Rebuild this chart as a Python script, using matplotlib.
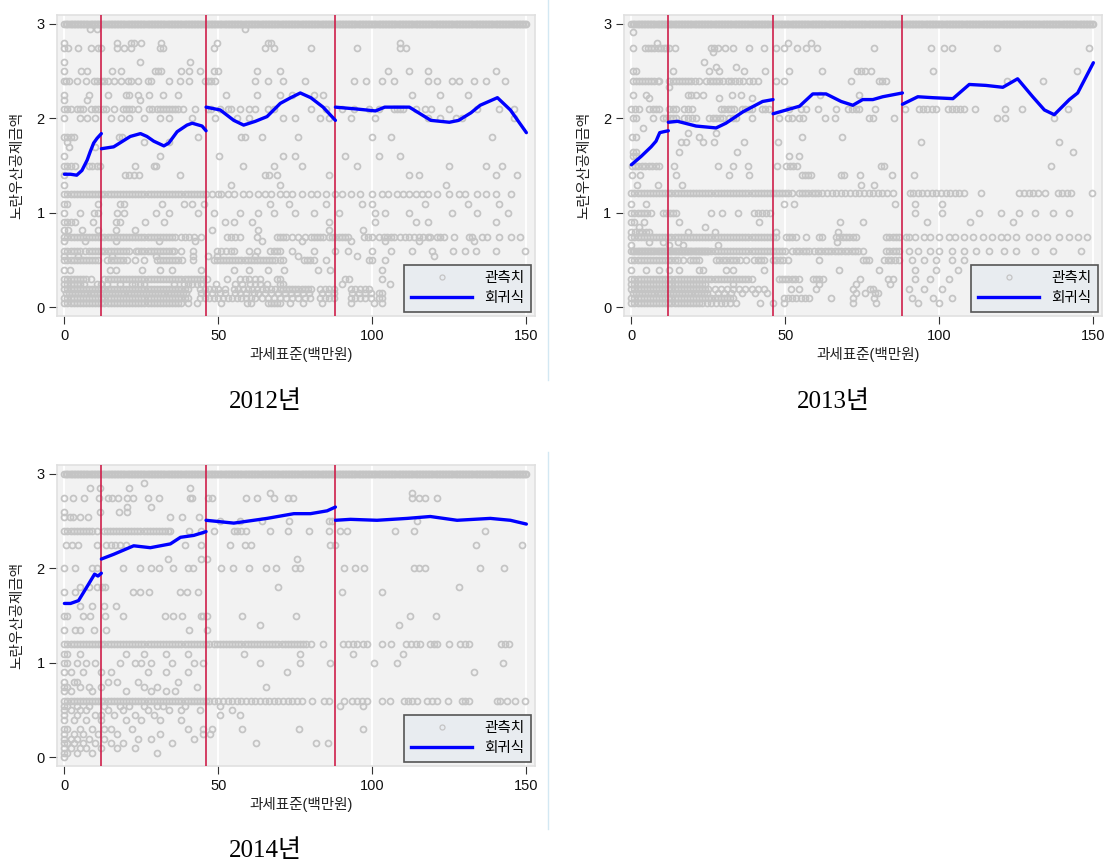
import matplotlib
matplotlib.use("Agg")
import matplotlib.pyplot as plt
from matplotlib.lines import Line2D

plt.rcParams['font.family'] = ['Liberation Sans', 'Noto Sans CJK KR']

FIG_W, FIG_H = 1109, 864

# ---------------------------------------------------------------- text
year_titles = ["2012년", "2013년", "2014년"]
x_label = "과세표준(백만원)"
y_label = "노란우산공제금액"
legend_labels = ["관측치", "회귀식"]
x_ticks = [0, 50, 100, 150]
y_ticks = [0, 1, 2, 3]
brackets = [12, 46, 88]          # tax-bracket thresholds (million won)

# ---------------------------------------------------------------- observations
# each row: (deduction amount, "taxable income values")
cap_row = """0 .5 1 1.5 2 2.5 3 3.5 4 4.5 5 5.5 6 6.5 7 7.5 8 8.5 9 9.5
10 10.5 11 11.5 12 12.5 13 13.5 14 14.5 15 15.5 16 16.5 17 17.5 18 18.5 19 19.5
20 20.5 21 21.5 22 22.5 23 23.5 24 24.5 25 25.5 26 26.5 27 27.5 28 28.5 29 29.5
30 30.5 31 31.5 32 32.5 33 33.5 34 34.5 35 35.5 36 36.5 37 37.5 38 38.5 39 39.5
40 40.5 41 41.5 42 42.5 43 43.5 44 44.5 45 45.5 46 46.5 47 47.5 48 48.5 49 49.5
50 50.5 51 51.5 52 52.5 53 53.5 54 54.5 55 55.5 56 56.5 57 57.5 58 58.5 59 59.5
60 60.5 61 61.5 62 62.5 63 63.5 64 64.5 65 65.5 66 66.5 67 67.5 68 68.5 69 69.5
70 70.5 71 71.5 72 72.5 73 73.5 74 74.5 75 75.5 76 76.5 77 77.5 78 78.5 79 79.5
80 80.5 81 81.5 82 82.5 83 83.5 84 84.5 85 85.5 86 86.5 87 87.5 88 88.5 89 89.5
90 90.5 91 91.5 92 92.5 93 93.5 94 94.5 95 95.5 96 96.5 97 97.5 98 98.5 99 99.5
100 100.5 101 101.5 102 102.5 103 103.5 104 104.5 105 105.5 106 106.5 107 107.5 108 108.5 109 109.5
110 110.5 111 111.5 112 112.5 113 113.5 114 114.5 115 115.5 116 116.5 117 117.5 118 118.5 119 119.5
120 120.5 121 121.5 122 122.5 123 123.5 124 124.5 125 125.5 126 126.5 127 127.5 128 128.5 129 129.5
130 130.5 131 131.5 132 132.5 133 133.5 134 134.5 135 135.5 136 136.5 137 137.5 138 138.5 139 139.5
140 140.5 141 141.5 142 142.5 143 143.5 144 144.5 145 145.5 146 146.5 147 147.5 148 148.5 149 149.5 150"""

obs_2012 = [
    (3.00, cap_row),
    (2.95, "8.4 10.6 58.8"),
    (2.80, "0 17 21.5 22.5 25 31.5 49.5 66 67 109"),
    (2.75, "0 1.2 4.5 8.5 11 12 17 19.5 21.5 31 32 48.5 65 68 80 95 109 111"),
    (2.60, "0 24.5 40.7"),
    (2.50, "0 5.5 7.5 15.5 18.5 29.5 30.5 31.5 38 40.5 44 48.5 50 62.5 70 105 112 118 140"),
    (2.40, "0 0.5 1.5 4 7 9.5 10.5 12 13 14 16 18.5 20.5 21.5 24 27 28 34 37.5 40.5 45.5 46.5 47.5 49 "
           "62 66 71 78 94 98 103 107 118 121 126 128 133 137 143"),
    (2.25, "0 8 14 20 21 24 27.5 32 37 52.5 62.5 70 74 81 84 113 122 131"),
    (2.20, "0 7.5 24.5"),
    (2.10, "0 1 2 4 5 6 8.5 10 11 12.5 13.5 16 19 20 21 22 24 27.5 28.5 30 31 32 33 34 35 36 37 38.5 "
           "42.5 46.5 47.5 50.5 53 54 57 60 62 66 68 80 85 90 94 99 102 107 108 109 110 114 117 119 125 134 141 146"),
    (2.00, "0 5 7.5 10 15 18.5 21 26 31 34 41.5 49 56 60 71 75 83 86 93 101 118 122 127 129 146"),
    (1.80, "0 1 2 3.1 17.6 18.7 43.4 57.2 58.8 64 76 100 106 139"),
    (1.75, "1 26 34"),
    (1.70, "1.4 10"),
    (1.60, "0 31.2 50.3 71 75 91 102 109"),
    (1.50, "0 1 2 3.5 7.9 9 10.5 11.6 23 29 29.9 58 68 77 95 125 137 142"),
    (1.40, "0 19.8 21 22.5 24.1 37.5 65 66.5 68.9 86 112 115 140 147"),
    (1.30, "0 54 70 124"),
    (1.20, "0 1 2 3 4 5 6 7 8 9 10 11 12 13 14 15 16 17 18 19 20 21 22 23 24 25 26 27 28 29 30 31 32 33 34 35 "
           "36 37 38 39 40 41 42 43 44 45 46 48 50 51 53 55 58 60 63 65 67 70 72 74 77 80 82 85 88 90 93 96 100 "
           "103 105 108 110 112 114 116 118 121 125 128 130 134 137 140 145"),
    (1.10, "0 0.9 11 18 19.4 31.7 38.7 41.5 45.2 66.9 73 85 96.6 100 117 131 141"),
    (1.00, "0 5.2 9.5 10.9 17 19.3 29.8 33.9 43.4 48.5 57 63 68 75 81 89 101 104 112 126 134 144"),
    (0.90, "0 1 2 3.5 9.3 16.9 18 26.1 32.5 52 55 61 86 101 114 118 140"),
    (0.82, "0 1.3 5.6 10.8 16.6 23 48 63 86 97"),
    (0.75, "0 1 2 3 4 5 6 7 8 9 10 11 12 13 14 15 16 17 18 19 20 21 22 23 24 25 26 27 28 29 30 31 32 33 34 35 36 "
           "37.7 39 40.5 42 44.2 52.7 54 55.5 57.1 62.5 69 70 71 72 74 76 78 80 81 82 83 84 86 87 88 89 90 91 92 "
           "97.2 98.5 100 102 103.7 104.8 106 106.9 109 110.5 112 113.5 115 116.5 118 118.8 121 122 123.2 126.4 "
           "131.3 132.4 135.6 137.2 141 145 148"),
    (0.70, "0 6.7 16.6 30.6 42.3 64 77 93 104 115 133"),
    (0.60, "0 1 2 3 4 5 6.7 8 9 10 11 12 13 14 15 16 17 18 19 20 20.9 23.1 24 25 26 27 28 29 30 31 32 33 34 35 "
           "35.5 38 41.8 49.6 51 52.5 54 55 59.9 62.5 66.9 68 69 70.1 74 81 88 92 100 106 112.9 119.2 126.2 130 "
           "133.8 140 149.5"),
    (0.55, "0 4.3 15.5 29.8 41.9 46.6 49.6 62 76 95 120"),
    (0.50, "0 1 2 3 4 5 6 7 8 9 10 11 13.8 15 16 17 18 19 20.3 23 25.8 30.1 31 32 33 34 35 36 37 38.2 41.9 "
           "48.5 49.5 50.5 51.5 52.5 53.5 54.5 55.5 56.5 57.5 58.5 59.5 60.5 61.5 62.5 63.5 64.5 65.5 66.5 "
           "67.5 68.5 70 71 77.7 78.7 79.8 80.9 85.1 98.8 99.9 104"),
    (0.40, "0 1.8 14.9 16.6 25.2 31.2 35 44.2 55 60 66 71.4 82.4 86.2 103"),
    (0.30, "0 1 2 3 4 5 6 7 8.5 12.8 14 15 16 17 18 19 20 21 22 23 24 25 26 27 28 29 30 31 32 33 34 35 36 37 38 "
           "39 40 41 42 43 44 45 46.3 52.7 57 58.5 60 62 63.6 69 70 91.2 92.3 103.2"),
    (0.25, "0 1 2 3 4 5 6.3 10.6 12 13.8 18.2 22 23 24.5 25.8 35.5 38.7 40 41.5 43 44.2 49.1 55.5 57.6 60.3 62 "
           "63.5 65.8 70 71 90.2 105.6"),
    (0.20, "0 1 2 3 4 5 6 7 8 9 10 11 12 13 14 15 16 17 18 19 20 21 22 23 24 25 26 27 28 29 30 31 32 33 34 35 "
           "36 37 38 39 40 44 45.5 47 48.5 50 52 55 56.5 58 59.5 61 62.5 64 65.5 67 68.5 70 71 72 73 74 75 76 "
           "77 78 79 80 83 84.5 86 87.5 93 94.5 96 97.5 99"),
    (0.15, "0.5 1.5 2.5 3.5 4.5 5.5 6.5 7.5 8.5 9.5 10.5 11.5 12.5 13.5 14.5 15.5 16.5 17.5 18.5 19.5 20.5 "
           "21.5 22.5 23.5 24.5 25.5 26.5 27.5 28.5 29.5 30.5 31.5 32.5 33.5 34.5 35.5 36.5 37.5 38.5 39.5 "
           "44.5 46 48 50.5 52 55.5 57 59 61.5 63 65 67 69.5 71.5 73.5 75.5 77.5 79.5 83.5 85.5 87.5 93.5 "
           "95.5 97.5 99.4 102 103.2"),
    (0.10, "0 1 2 3 4 5 6 7 8 9 10 11 12 13 14 15 16 17 18 19 20 21 22 23 24 25 26 27 28 29 30 31 32 33 34 35 "
           "36 37 38 39 40 44 45.5 47 48.5 50 51.5 53 54.5 56 57.5 59 60.5 62 64 66 68 70 72 74 76 78 79.9 "
           "83.1 84.5 86 87.5 92.9 94.5 96 97.5 99.4 102 103.2"),
    (0.05, "0 1 2 3 4 5 6 7 8 9 10 11 12 13 14 15 16 17 18 19 20 21 22 23 24 25 26 27 28 29 30 31 32 33 34 35 "
           "36 37 38 40 43 50.7 59.3 60.5 66 67 68 69 70 73.2 77.5 83.7 92.9 100.4 103.2"),
]

obs_2013 = [
    (3.00, cap_row),
    (2.92, "0.4"),
    (2.80, "8.3 50.8 58.3"),
    (2.75, "0.4 4.5 5.5 6.5 7.5 8.5 9.5 10.5 11.3 12.3 14.3 25.7 26.7 28 30.4 33 38.3 43 47 49.4 53.8 56.7 "
           "60.3 78.9 97.3 101.4 104.1 118.7 148.7"),
    (2.70, "26.4"),
    (2.60, "23.7"),
    (2.55, "27.5 34"),
    (2.50, "0.4 1.5 13.4 25.3 28.6 36.5 43.4 51.3 61.8 73.3 74.5 76 77.8 97.8 144.7"),
    (2.40, "0.4 1.5 2.5 3.5 4.5 5.5 6.5 7.5 8.5 9.1 12.3 13.5 14.5 15.5 16.5 17.5 18.5 19.5 20.5 22.1 24.3 "
           "25.5 26.5 27.5 28.5 29.7 31.3 32.5 33.5 35 36.2 38.3 39.5 41 47 49.7 71.3 80.5 81.5 82.7 121.9 133.6"),
    (2.33, "12.3"),
    (2.25, "0.4 4.7 18.3 19.5 21 23.1 32.7 35.6 61.4 73.8"),
    (2.22, "5.6 28.6 39.1"),
    (2.10, "0 1.3 2.6 5.8 7 8 9.1 12.3 13.4 14.5 17 18.4 19.8 29.1 30.2 31.3 32.4 33.4 35.9 37 38.2 39.3 "
           "42.4 43.5 44.6 51.3 55.1 56.7 60.5 66.4 70.2 71.5 72.8 74 79.2 88.9 93.5 94.8 96.1 97.5 98.9 "
           "102.7 104 105.4 106.7 108.1 111.7 121.4 126.9 141.7"),
    (2.00, "0.4 1.5 6.9 10.2 11.3 12.4 13.5 14.5 17 18.3 19.6 20.9 25.3 26.4 27.6 28.7 29.7 31.8 32.9 34 "
           "39.3 47.8 51 52.3 54.3 55.6 62.9 66.2 77 78.4 85.4 118.7 121.3 137.3"),
    (1.90, "3.9"),
    (1.85, "18.3 27.5"),
    (1.80, "0.1 1.5 21.9 55.4 68.4"),
    (1.75, "16 17.7 23.1 26.7 36.5 47.7 94 138.9"),
    (1.65, "0.4 1.5 15.4 34.3 143.5"),
    (1.60, "0.4 1.5 51.3 54.3"),
    (1.50, "0.1 1.2 2.3 3.4 4.5 5.6 6.7 7.9 9.1 13.9 28 32.9 38 47.3 50.3 51.4 52.5 53.7 81 82.1 136.2"),
    (1.40, "0.1 2.7 14.5 31.8 38.3 55.4 56.4 57.4 58.4 68 69.1 74.3 84.6 91.9"),
    (1.30, "1.9 8.5 16.3 74.6 78.9"),
    (1.21, "0 1 2 3 4 5 6 7 8 9 10 11 12 13 14 15 16 17 18 19 20 21 22 23 24 25 26 27 28 29 30 31 32 33 34 35 "
           "36 37 38 39 40 41 42 43 44 45 46 47 48 49 50 51 52 54.5 55.5 56.5 57.5 58.5 59.5 60.5 62 63.5 65 "
           "66.5 68 69.5 71 72.5 74 75.5 77 78.5 80 81.5 83 84.8 90.3 91.5 93 94.5 96 97.5 99 100.5 102 103.5 "
           "105 106.5 108.1 113.5 126 127.5 129 130.5 132 134.2 138.4 139.8 141.3 142.8 149.4"),
    (1.10, "0 4.6 49.7 52.9 85.7 92 101"),
    (1.00, "0 1 2 3 4 5 6.4 10.2 11.3 12.4 13.5 14.5 25.9 29.4 34.5 39.9 41.2 42.5 43.8 45.1 92 101 113 120 "
           "126 131 137 142"),
    (0.90, "0 1 4.2 15.6 41.4 67.8 75.3 96 110 124"),
    (0.85, "2.6 24"),
    (0.80, "0 1.2 2.4 3.6 4.7 5.8 18.3 27 46.8 67"),
    (0.75, "0 1 2 3 4 5 6 7 8 9 10 11 12 13 14 15 16 17 18 19 20 21 22 23 24 25 26 27 28 29 30 31 32 33 34 35 "
           "36 37 38 39 40 41 42 43 44 45 46 47 50.2 51.3 52.3 53.4 56.6 61 62 66.4 67.5 68.6 69.7 70.8 71.9 "
           "72.9 82.6 83.7 84.8 85.9 87 89 90 92 95 97 100 103 105 108 111 114 117 120 122 125 129 132 135 "
           "139 142 145 148"),
    (0.69, "5.8 10.2 15.1 66.7"),
    (0.66, "0 12.3 16.7 28"),
    (0.60, "0 .5 1 1.5 2 2.5 3 3.5 4 4.5 5 5.5 6 6.5 7 7.5 8 8.5 9 9.5 10 10.5 11 11.5 12 12.5 13 13.5 14 "
           "14.5 15 15.5 16 16.5 17 17.5 18 18.5 19 19.5 20 20.5 21 21.5 22 22.5 23 23.5 24 24.5 25 26 27 28 "
           "29 30 31 32 33 34 35 36 37 38 39 40 41 42 43 44 45 46 47 48 49 50 52.3 53.4 54.5 55.6 56.7 57.8 "
           "59.4 60.5 61.6 62.7 63.8 64.9 66 67.1 68.2 69.3 70.4 71.5 72.6 73.7 75.1 82.6 83.7 84.8 85.9 87 "
           "90 93 97 100 104 108 112 116 121 125 131 137 146"),
    (0.50, "0 1 2 3 4 5 6 7 8 9 10 11 12 13 14 15 16.7 18.9 20 21 22.1 27.5 28.6 29.7 30.8 31.9 33 34.1 35.2 "
           "37.2 39.9 41 42.1 43.2 45.9 47 48.1 49.2 50.7 61 75.1 76.2 77.3 82 83.2 84.4 85.6 87 91 95 99 104 108"),
    (0.40, "0 4.8 9.1 12.3 15.6 21.9 23.2 30.7 32.9 42.9 67.4 80.3 92 99 106"),
    (0.30, "0 1 2 3 4 5 6 7 8 9 10 11 12 13 14 15 16 17 18 19 20 21 22 23 24 25 26 27 28 29 30 31 32 33 34 35 "
           "36 37 38 39 48 49 50 51 52 53 54.5 58.9 60 61 62.1 74.3 83.2 84.8 92 97 103"),
    (0.25, "0 1 2 3 4 5 6 7 8 9 10 11 12 13 14 15 16 17 18 19 20 21 22 23 24 32.9 61 72.9 84.1"),
    (0.20, "0 1 2 3 4 5 6 7 8 9 10 11 12 13 14 15 16 17 18 19 20 21 22 23 24 25 27 29 31 33 35 37 39 41 43 "
           "51.8 54.5 59.9 72 77.6 78.4 90 95 101"),
    (0.15, "0.5 1.5 2.5 3.5 4.5 5.5 6.5 7.5 8.5 9.5 10.5 11.5 12.5 13.5 14.5 15.5 16.5 17.5 18.5 19.5 20.5 "
           "21.5 22.5 23.5 24.5 28 30 32.5 36 40 44 73 76 79 80"),
    (0.10, "0 1 2 3 4 5 6 7 8 9 10 11 12 13 14 15 16 17 18 19 20 21 22 23 24 25 26 27 28 29 30 31 32 33 "
           "49.7 51 52.3 53.6 55 56.4 57.8 64.8 71.9 78.9 91 98 104"),
    (0.05, "0 1 2 3 4 5 6 7 8 9 10 11 12 13 14 15 16 17 18 19 20 21 22 23 24.5 26 27.5 29 30.5 32 33.9 "
           "41.6 45.9 49.7 71.9 79.4 93 100"),
]

obs_2014 = [
    (3.00, cap_row),
    (2.90, "25.8"),
    (2.85, "8.2 11.5 21 40.7"),
    (2.80, "66.6 113"),
    (2.75, "0 2.8 6.3 11.1 14 15.5 17.5 20.2 22.4 27 30.8 40.7 41.4 46.7 48 59 62.5 68 72.5 74.2 113 115 117 121"),
    (2.65, "20.2 28.1"),
    (2.60, "0 11.5 17.6 20.2"),
    (2.55, "0 1.7 2.8 5.2 7.6 34.2 38.2 43.6"),
    (2.50, "50.6 57 64 72.8 85.8 87 114.5"),
    (2.40, "0 1 2 3 4 5 6 7 8 9 10.5 12.7 13.7 14.7 15.7 16.7 17.7 18.7 19.7 20.7 21.7 22.7 23.7 24.7 25.7 "
           "26.7 27.7 28.7 29.7 30.7 31.7 32.7 33.7 34.4 40.6 44.2 48.5 55 56 57.5 59 66.6 72.6 79.5 86 89.6 "
           "91.8 107.5 113.4 136.7"),
    (2.25, "0.5 2.4 4.3 10.5 13.5 15 16.5 18 20 39.1 44.2 53.9 58.8 60.7 86.4 88 133.7 148.6"),
    (2.10, "33.8 44.5 46.3 75.5"),
    (2.00, "0 3.5 8.9 10.5 19 24.4 28.1 30.8 35.2 40 41.6 50.9 54.8 59.8 65.3 68.8 75 76.6 90.7 94.5 97.2 "
           "113.4 115 117.2 134.8 142.6"),
    (1.80, "5.2 8.1 10.5 12.1 13.2 69.3 128"),
    (1.75, "0 3.5 22.2 24.6 27.6 37.5 39.9 43.5 90.2 103.2"),
    (1.60, "5.2 9 13 16.9"),
    (1.50, "0 1 6.1 8.4 13.2 19 32.6 35.3 38.2 44.5 45 46.4 57.7 75.2 112.3 120.5"),
    (1.40, "63.6 108.8"),
    (1.35, "0 3.5 5.2 9.7 13.5 40.3 46.3"),
    (1.20, "0 1 2 3 4 5 6 7 8 9 10 11 12 13 14 15 16 17 18 19 20 21 22 23 24 25 26 27 28 29 30 31 32 33 34 35 "
           "36 37 38 39 40 41 42 43 44 45 46 47 48.5 49.5 50.5 51.5 52.5 53.5 54.5 55.5 56.5 57.5 58.5 59.5 "
           "60.5 61.5 62.5 63.5 64.5 65.5 66.5 67.5 68.5 69.5 70.5 71.5 72.5 73.5 74.5 75.5 76.5 77.5 78.5 80 "
           "84 90.6 92 93.6 95 96.8 98.4 103.2 106 111 112.5 114 115.6 118.8 120 121 124.8 128.6 130 131.3 "
           "141.9 143 144.3"),
    (1.10, "0 1 5 20 26 33 40 58.2 76.6 93.6 110"),
    (1.00, "0 1 4 7 10 18 23 25 28 35 42 45 63.6 76.4 86.4 100.6 108 142.4"),
    (0.90, "0 2 6 12 15 27 33 40 72.3 133"),
    (0.80, "0 3 4 14 17 24 37"),
    (0.75, "0 1 5 8 12 26 30 43 65.4"),
    (0.70, "0 2 9 20 28 33 36"),
    (0.60, "0 1 2 3 4 5 6 7 8 9 10 11 12 13 14 15 16 17 18 19 20 21 22 23 24 25 26 27 28 29 30 31 32 33 34 35 "
           "36 37 38 39 40 41 42 43 44 45 46 47 48.5 50 51.5 53 54.5 56 57.5 59 60.5 62 63.5 65 66.5 68 69.5 "
           "71 72.5 74 75.5 77 80.4 84.2 86 90.7 93.5 95 96.5 98.3 103.1 105.8 110.2 111.5 113 114.5 117.8 "
           "119.5 121 124.5 129.1 130.2 131.3 140.5 141.5 143.7 146.4 149.7"),
    (0.55, "0 1 4 8 13 18 21 26 30 32 39 50.6 89.4 97"),
    (0.50, "0 2 5 7 14 19 27 34 38 44 54.4"),
    (0.45, "0 4 10 12 16 23 29 50.4 56.9"),
    (0.40, "0 3 7 12 20 25 31 38"),
    (0.30, "0 1 5 9 13 15 22 40 45 48 57.7 76.3 97"),
    (0.25, "0 3 6 11 17 31 45.1 47.4"),
    (0.20, "0 2 4 8 13 24 28 42"),
    (0.15, "0 1 3 6 10 15 19 35 62.2 81.8 85.7"),
    (0.10, "0 2 5 7 12 17 23"),
    (0.05, "0 1 4 9 30"),
    (0.00, "0"),
]

# ---------------------------------------------------------------- fitted curves (one per bracket)
fit_x_2012 = [
    [0, 2, 4, 5.7, 7.4, 8.4, 9.5, 10.6, 12],
    [12, 16, 21.4, 24.7, 26.8, 29, 32.3, 33.9, 36.6, 39.8, 41.5, 44.7, 46],
    [46, 50.6, 55, 58.2, 62, 65.8, 70.1, 73.5, 76.6, 80, 84, 88],
    [88, 95, 101, 104, 112, 119, 125, 128, 132, 135, 140.6, 144.8, 150],
]
fit_y_2012 = [
    [1.41, 1.41, 1.40, 1.45, 1.56, 1.65, 1.74, 1.79, 1.84],
    [1.68, 1.70, 1.81, 1.84, 1.81, 1.76, 1.71, 1.74, 1.86, 1.93, 1.95, 1.92, 1.87],
    [2.12, 2.09, 1.98, 1.93, 1.97, 2.02, 2.16, 2.22, 2.27, 2.22, 2.12, 1.98],
    [2.12, 2.10, 2.08, 2.12, 2.12, 1.98, 1.96, 1.98, 2.06, 2.14, 2.22, 2.09, 1.85],
]
fit_x_2013 = [
    [0, 3.2, 6.4, 8, 9.2, 10.5, 12],
    [12, 15, 21, 27.5, 30.7, 36.2, 42.6, 46],
    [46, 50.3, 54.6, 58.9, 63.2, 68.1, 71.9, 75.1, 78.4, 81.6, 88],
    [88, 93, 97.9, 104.4, 109.7, 115.1, 120.6, 125.4, 130.3, 134.1, 137.3, 142.2, 144.9, 150],
]
fit_y_2013 = [
    [1.51, 1.60, 1.70, 1.76, 1.85, 1.86, 1.87],
    [1.96, 1.97, 1.92, 1.90, 1.95, 2.07, 2.18, 2.20],
    [2.05, 2.09, 2.13, 2.26, 2.26, 2.18, 2.14, 2.20, 2.20, 2.23, 2.27],
    [2.15, 2.23, 2.22, 2.21, 2.36, 2.35, 2.33, 2.42, 2.23, 2.09, 2.04, 2.20, 2.27, 2.59],
]
fit_x_2014 = [
    [0, 2, 4.6, 7.4, 9.8, 10.9, 12],
    [12, 16, 22.5, 27.9, 34.4, 37.7, 42, 46],
    [46, 55, 65.8, 74.5, 79.9, 85.3, 88],
    [88, 92.9, 101.5, 111.3, 118.8, 127.5, 138.3, 144.8, 150],
]
fit_y_2014 = [
    [1.63, 1.63, 1.66, 1.81, 1.94, 1.92, 1.95],
    [2.10, 2.15, 2.24, 2.22, 2.26, 2.33, 2.35, 2.39],
    [2.51, 2.48, 2.53, 2.58, 2.58, 2.61, 2.65],
    [2.51, 2.52, 2.51, 2.53, 2.55, 2.51, 2.53, 2.51, 2.47],
]

# ---------------------------------------------------------------- styling
GRAY_MK = '#c4c4c4'
FIT_BLUE = '#0000ff'
CUT_RED = '#cf1f4b'
PLOT_BG = '#f2f2f2'
FRAME = '#e0e0e0'

# panel plot regions in pixels: left, top, right, bottom
panels = [
    dict(rect=(57, 15, 535, 316), obs=obs_2012, fx=fit_x_2012, fy=fit_y_2012,
         title=year_titles[0], title_xy=(265, 402)),
    dict(rect=(624, 15, 1102, 316), obs=obs_2013, fx=fit_x_2013, fy=fit_y_2013,
         title=year_titles[1], title_xy=(833, 402)),
    dict(rect=(57, 465, 535, 766), obs=obs_2014, fx=fit_x_2014, fy=fit_y_2014,
         title=year_titles[2], title_xy=(265, 851)),
]

fig = plt.figure(figsize=(FIG_W / 100, FIG_H / 100), dpi=100)


def fx(px):
    return px / FIG_W


def fy(py):
    return 1 - py / FIG_H


for p in panels:
    l, t, r, b = p['rect']
    ax = fig.add_axes([fx(l), fy(b), (r - l) / FIG_W, (b - t) / FIG_H])
    ax.set_facecolor(PLOT_BG)
    ax.set_xlim(-2.4, 152.8)
    ax.set_ylim(-0.09, 3.095)
    ax.set_axisbelow(True)
    ax.xaxis.grid(True, color='white', lw=1.4)
    ax.yaxis.grid(False)
    for s in ax.spines.values():
        s.set_color(FRAME)
        s.set_linewidth(1.2)
    ax.set_xticks(x_ticks)
    ax.set_yticks(y_ticks)
    ax.tick_params(direction='out', length=6, width=0.8, color='#333333',
                   labelsize=10.5, pad=3, labelcolor='#111111')

    # observations
    ox, oy = [], []
    for level, xs in p['obs']:
        vals = [float(v) for v in xs.split()]
        ox.extend(vals)
        oy.extend([level] * len(vals))
    ax.plot(ox, oy, ls='none', marker='o', ms=4.3, mfc='none', mec=GRAY_MK,
            mew=1.25, zorder=2, clip_on=False)

    # bracket thresholds
    for cut in brackets:
        ax.axvline(cut, color=CUT_RED, lw=1.2, zorder=3)

    # fitted curves, one per bracket
    for sx, sy in zip(p['fx'], p['fy']):
        ax.plot(sx, sy, color=FIT_BLUE, lw=2.4, zorder=4, solid_capstyle='round')

    handles = [
        Line2D([], [], ls='none', marker='o', ms=3.6, mfc='none', mec=GRAY_MK, mew=0.9),
        Line2D([], [], color=FIT_BLUE, lw=2.4),
    ]
    leg = ax.legend(handles, legend_labels, loc='lower right', bbox_to_anchor=(1, 0),
                    borderaxespad=0.3, frameon=True, fancybox=False, framealpha=1,
                    facecolor='#e8ecf0', edgecolor='#555555', fontsize=10.5,
                    handlelength=4.2, handletextpad=0.8, labelspacing=0.4,
                    borderpad=0.45)
    leg.get_frame().set_linewidth(1.2)
    leg.set_zorder(10)

    # axis titles
    fig.text(fx((l + r) / 2 + 5), fy(b + 38), x_label, ha='center', va='center',
             fontsize=10.5, color='#222222')
    fig.text(fx(l - 40), fy((t + b) / 2), y_label, ha='center', va='center',
             rotation=90, fontsize=10.5, color='#222222')

    # year caption
    tx, ty = p['title_xy']
    fig.text(fx(tx), fy(ty), p['title'], ha='center', va='center', fontsize=18,
             family=['Liberation Serif', 'Noto Sans CJK KR'], color='black')

# thin separators between panels
fig.add_artist(Line2D([fx(548), fx(548)], [fy(0), fy(380)], color='#d3e8f3', lw=1.0))
fig.add_artist(Line2D([fx(548), fx(548)], [fy(452), fy(829)], color='#d3e8f3', lw=1.0))

fig.savefig('out.png', dpi=100)
